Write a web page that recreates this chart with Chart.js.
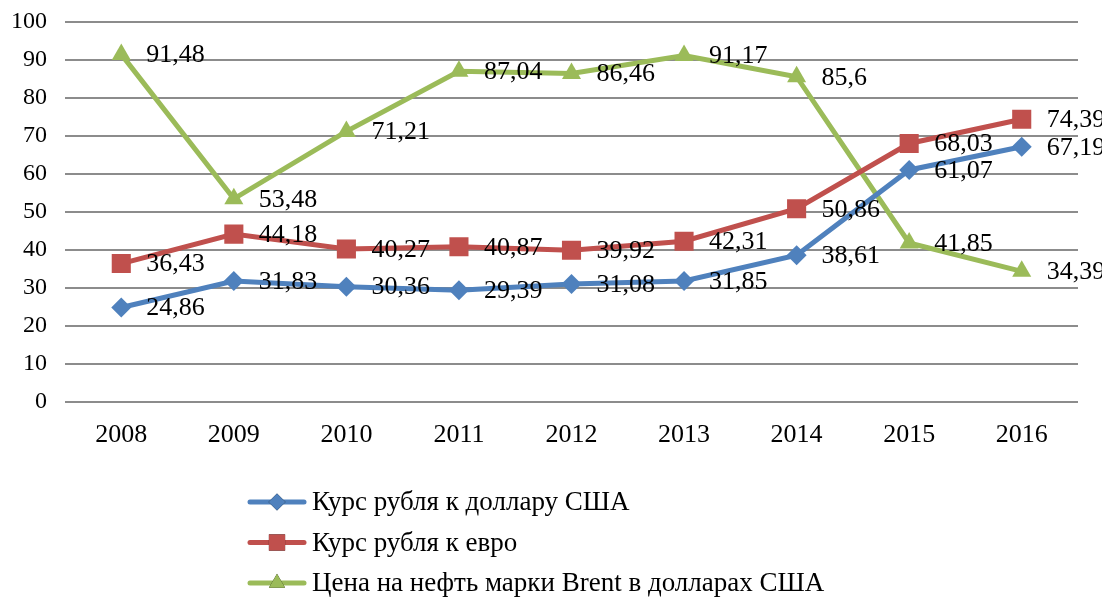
<!DOCTYPE html>
<html lang="ru">
<head>
    <meta charset="UTF-8">
    <title>Курс рубля и цена нефти Brent</title>
    <script src="https://cdn.jsdelivr.net/npm/chart.js"></script>
    <style>
        html, body { margin: 0; padding: 0; background: #fff; }
        #wrap { width: 1102px; height: 597px; position: relative; }
    </style>
</head>
<body>
    <div id="wrap"><canvas id="chart"></canvas></div>
    <script>
        // data
        const years = ['2008', '2009', '2010', '2011', '2012', '2013', '2014', '2015', '2016'];
        const usdRate = [24.86, 31.83, 30.36, 29.39, 31.08, 31.85, 38.61, 61.07, 67.19];
        const eurRate = [36.43, 44.18, 40.27, 40.87, 39.92, 42.31, 50.86, 68.03, 74.39];
        const brentPrice = [91.48, 53.48, 71.21, 87.04, 86.46, 91.17, 85.6, 41.85, 34.39];
        const seriesNames = ['Курс рубля к доллару США', 'Курс рубля к евро', 'Цена на нефть марки Brent в долларах США'];

        const FONT = 'Liberation Serif, "Times New Roman", serif';

        // value labels to the right of each point, "91,48" style
        const pointLabels = {
            id: 'pointLabels',
            afterDatasetsDraw(chart) {
                const ctx = chart.ctx;
                ctx.save();
                ctx.font = '26px ' + FONT;
                ctx.fillStyle = '#000';
                ctx.textBaseline = 'middle';
                chart.data.datasets.forEach((ds, i) => {
                    chart.getDatasetMeta(i).data.forEach((pt, j) => {
                        const txt = String(ds.data[j]).replace('.', ',');
                        ctx.fillText(txt, pt.x + 25, pt.y + 1);
                    });
                });
                ctx.restore();
            }
        };

        // vertical legend under the chart
        const stackedLegend = {
            id: 'stackedLegend',
            afterDraw(chart) {
                const ctx = chart.ctx;
                const x0 = 250, y0 = 502, step = 40.5;
                ctx.save();
                ctx.font = '27px ' + FONT;
                ctx.textBaseline = 'middle';
                chart.data.datasets.forEach((ds, i) => {
                    const y = y0 + i * step;
                    ctx.strokeStyle = ds.borderColor;
                    ctx.lineWidth = 5;
                    ctx.lineCap = 'round';
                    ctx.beginPath();
                    ctx.moveTo(x0, y);
                    ctx.lineTo(x0 + 54, y);
                    ctx.stroke();
                    Chart.helpers.drawPoint(ctx, {
                        pointStyle: ds.pointStyle,
                        radius: ds.pointRadius * 0.85,
                        borderWidth: 0,
                        rotation: 0
                    }, x0 + 27, y);
                    ctx.fillStyle = ds.backgroundColor;
                    ctx.fill();
                    ctx.fillStyle = '#000';
                    ctx.fillText(ds.label, x0 + 62, y + 1);
                });
                ctx.restore();
            }
        };

        function series(label, data, color, style, r) {
            return {
                label: label,
                data: data,
                borderColor: color,
                backgroundColor: color,
                borderWidth: 5,
                pointStyle: style,
                pointRadius: r,
                pointHoverRadius: r,
                pointBorderWidth: 0,
                tension: 0
            };
        }

        new Chart(document.getElementById('chart'), {
            type: 'line',
            data: {
                labels: years,
                datasets: [
                    series(seriesNames[0], usdRate, '#4F81BD', 'rectRot', 10),
                    series(seriesNames[1], eurRate, '#C0504D', 'rect', 13.5),
                    series(seriesNames[2], brentPrice, '#9BBB59', 'triangle', 11)
                ]
            },
            options: {
                responsive: true,
                maintainAspectRatio: false,
                animation: false,
                layout: { padding: { top: 22, right: 24, bottom: 145, left: 0 } },
                plugins: {
                    legend: { display: false },
                    tooltip: { enabled: false }
                },
                scales: {
                    x: {
                        offset: true,
                        grid: { display: false, drawTicks: false },
                        border: { display: false },
                        ticks: { color: '#000', font: { family: FONT, size: 26 }, padding: 18 },
                        afterFit(scale) { scale.height = 50; }
                    },
                    y: {
                        min: 0,
                        max: 100,
                        ticks: { stepSize: 10, color: '#000', font: { family: FONT, size: 24 }, padding: 18 },
                        grid: { color: '#8c8c8c', lineWidth: 2, drawTicks: false },
                        border: { display: false },
                        afterFit(scale) {
                            scale.width = 65;
                            scale.paddingTop = 0;
                            scale.paddingBottom = 0;
                        }
                    }
                }
            },
            plugins: [pointLabels, stackedLegend]
        });
    </script>
</body>
</html>
